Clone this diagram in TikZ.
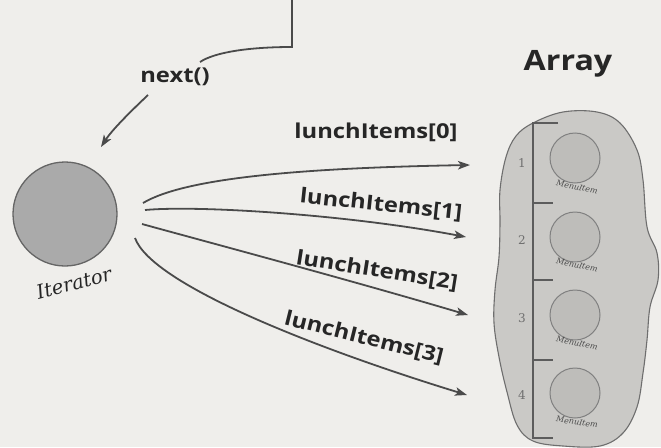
\documentclass[tikz,border=0pt]{standalone}
\usepackage{fontspec}
\setmainfont{Open Sans}
\newfontfamily\handfont{DejaVu Serif}
\usetikzlibrary{arrows.meta}
\definecolor{bg}{HTML}{EFEEEB}
\definecolor{ink}{HTML}{4A4A4A}
\definecolor{txt}{HTML}{262626}
\definecolor{blobfill}{HTML}{CAC9C6}
\definecolor{blobline}{HTML}{6E6E6E}
\definecolor{itfill}{HTML}{AAAAAA}
\definecolor{mifill}{HTML}{BEBDBA}
\tikzset{
  conn/.style={draw=ink, line width=1.8pt},
  arr/.style={conn, -{Stealth[length=12pt,width=8.5pt,inset=3pt]}},
  lbl/.style={font=\bfseries\fontsize{20.5}{22}\selectfont, text=txt, inner sep=0pt, transform shape, rotate=#1, xscale=1.16},
  lbl/.default=0,
  numlbl/.style={font=\handfont\fontsize{12}{12}\selectfont, text=ink!80, inner sep=0pt},
  milbl/.style={font=\handfont\itshape\fontsize{8}{8}\selectfont, text=ink, inner sep=0pt},
  mitem/.style={circle, draw=ink!70, line width=1pt, fill=mifill, minimum size=50pt, inner sep=0pt},
}
\begin{document}
\begin{tikzpicture}[x=1pt,y=-1pt]
\fill[bg] (0,0) rectangle (661,447);
\useasboundingbox (0,0) rectangle (661,447);

% top connector and next()
\coordinate (top) at (292,0);
\coordinate (corner) at (292,47);
\coordinate (curveend) at (200,62);
\draw[conn] (top) -- (corner) .. controls (250,47) and (215,52) .. (curveend);
\node[lbl] (next) at (175,77) {next()};
\coordinate (nextfrom) at (148,95);

% iterator
\node[circle, draw=ink!85, line width=1.3pt, fill=itfill, minimum size=104pt, inner sep=0pt] (it) at (65,214) {};
\node[font=\handfont\itshape\fontsize{19.5}{20}\selectfont, text=txt, rotate=15, inner sep=0pt] (itlbl) at (74,283) {Iterator};
\coordinate (itto) at (101,147);
\draw[arr] (nextfrom) .. controls (130,112) and (112,130) .. (itto);

% array blob
\draw[draw=blobline, line width=1.1pt, fill=blobfill] plot[smooth cycle, tension=0.6] coordinates {
 (533,123) (563,112) (597,112) (620,123) (637,150) (643,180) (647,227) (657,253)
 (658,280) (650,307) (647,340) (643,373) (637,407) (623,433) (600,446) (563,446)
 (533,441) (517,425) (507,392) (499,357) (494,323) (495,290) (499,257) (500,223)
 (500,190) (506,157) (516,136)};
\node[font=\bfseries\fontsize{28}{30}\selectfont, text=txt, inner sep=0pt, transform shape, xscale=1.15] (arraytitle) at (568,64) {Array};

% bracket
\draw[draw=ink!90, line width=1.2pt] (558,123) -- (533,123) -- (533,438) -- (553,438);
\draw[draw=ink!90, line width=1.2pt] (533,203) -- (553,203);
\draw[draw=ink!90, line width=1.2pt] (533,280) -- (553,280);
\draw[draw=ink!90, line width=1.2pt] (533,360) -- (553,360);

% menu items
\node[mitem] (m1) at (575,158) {};
\node[mitem] (m2) at (575,237) {};
\node[mitem] (m3) at (575,315) {};
\node[mitem] (m4) at (575,393) {};
\node[numlbl] (n1) at (522,163) {1};
\node[numlbl] (n2) at (522,240) {2};
\node[numlbl] (n3) at (522,318) {3};
\node[numlbl] (n4) at (522,395) {4};
\node[milbl, rotate=-12] (ml1) at (577,187) {MenuItem};
\node[milbl, rotate=-12] (ml2) at (577,265) {MenuItem};
\node[milbl, rotate=-12] (ml3) at (577,343) {MenuItem};
\node[milbl, rotate=-8] (ml4) at (577,422) {MenuItem};

% arrows to array
\coordinate (s0) at (143,203);
\coordinate (s1) at (145,210);
\coordinate (s2) at (142,224);
\coordinate (s3) at (135,238);
\coordinate (e0) at (470,165);
\coordinate (e1) at (466,237);
\coordinate (e2) at (468,315);
\coordinate (e3) at (467,395);
\draw[arr] (s0) .. controls (185,178) and (300,168) .. (e0);
\draw[arr] (s1) .. controls (200,205) and (350,215) .. (e1);
\draw[arr] (s2) .. controls (200,240) and (350,280) .. (e2);
\draw[arr] (s3) .. controls (152,285) and (320,350) .. (e3);

\node[lbl] (l0) at (376,132) {lunchItems[0]};
\node[lbl=-6] (l1) at (381,205) {lunchItems[1]};
\node[lbl=-9] (l2) at (377,271) {lunchItems[2]};
\node[lbl=-14] (l3) at (364,338) {lunchItems[3]};
\end{tikzpicture}
\end{document}
